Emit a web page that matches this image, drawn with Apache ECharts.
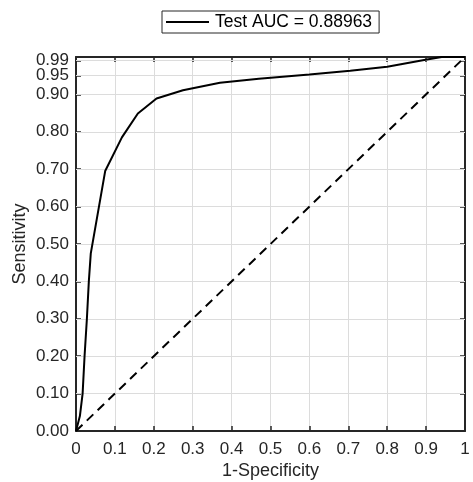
<!DOCTYPE html>
<html>
<head>
<meta charset="utf-8">
<script src="https://cdn.jsdelivr.net/npm/echarts@6/dist/echarts.min.js"></script>
<style>html,body{margin:0;padding:0;background:#fff}#c{width:473px;height:482px}</style>
</head>
<body>
<div id="c"></div>
<script>
// ROC curve data (1-Specificity vs Sensitivity)
const fpr = [0, 0.010, 0.017, 0.022, 0.028, 0.033, 0.038, 0.075, 0.118, 0.159, 0.207, 0.275, 0.370, 0.470, 0.600, 0.705, 0.800, 0.895, 0.940, 1];
const tpr = [0, 0.04, 0.10, 0.20, 0.30, 0.40, 0.475, 0.695, 0.785, 0.849, 0.889, 0.911, 0.931, 0.942, 0.953, 0.963, 0.974, 0.992, 1.0, 1.0];
const chanceX = [0, 1];
const chanceY = [0, 1];
const yTicks = [0, 0.1, 0.2, 0.3, 0.4, 0.5, 0.6, 0.7, 0.8, 0.9, 0.95, 0.99];
const xTicks = [0, 0.1, 0.2, 0.3, 0.4, 0.5, 0.6, 0.7, 0.8, 0.9, 1];
const seriesName = 'Test AUC = 0.88963';
const xTitle = '1-Specificity';
const yTitle = 'Sensitivity';

const FONT = 'Liberation Sans, Arial, sans-serif';
const AX = '#262626';
const GRID = '#dcdcdc';

const chart = echarts.init(document.getElementById('c'), null, {renderer: 'canvas'});
const rocData = fpr.map((x, i) => [x, tpr[i]]);
const chanceData = chanceX.map((x, i) => [x, chanceY[i]]);

// split y tick labels across two overlaid left axes so the close 0.95 label is not hidden
const yLabelsB = [0.95];
const yLabelsA = yTicks.filter(v => yLabelsB.indexOf(v) < 0);

const yLabelStyle = {fontFamily: FONT, fontSize: 17, color: AX, margin: 7,
  hideOverlap: false, showMinLabel: true, showMaxLabel: true,
  formatter: v => v.toFixed(2)};

chart.setOption({
  animation: false,
  backgroundColor: '#fff',
  grid: {left: 76, right: 8, top: 57, bottom: 51, containLabel: false, outerBoundsMode: 'none'},
  legend: {
    data: [{name: seriesName, icon: 'rect'}],
    left: 162, top: 11,
    itemWidth: 43, itemHeight: 2, itemGap: 5,
    padding: [2, 7, 2, 4],
    borderColor: AX, borderWidth: 1,
    backgroundColor: '#fff',
    textStyle: {fontFamily: FONT, fontSize: 17.5, color: '#000', padding: [0, 0, 0, 1]}
  },
  xAxis: [{
    type: 'value', min: 0, max: 1, interval: 0.1, position: 'bottom',
    name: xTitle, nameLocation: 'middle', nameGap: 31, nameMoveOverlap: false,
    nameTextStyle: {fontFamily: FONT, fontSize: 18, color: AX},
    axisLine: {show: true, onZero: false, lineStyle: {color: AX, width: 2}},
    axisTick: {show: true, inside: true, length: 5, lineStyle: {color: AX, width: 1.5}},
    axisLabel: {fontFamily: FONT, fontSize: 17, color: AX, margin: 10,
      customValues: xTicks, hideOverlap: false,
      formatter: v => (v === 0 ? '0' : v === 1 ? '1' : v.toFixed(1))},
    splitLine: {show: true, lineStyle: {color: GRID, width: 1}}
  }, {
    type: 'value', min: 0, max: 1, interval: 0.1, position: 'top',
    axisLine: {show: true, onZero: false, lineStyle: {color: AX, width: 2}},
    axisTick: {show: true, inside: true, length: 5, lineStyle: {color: AX, width: 1.5}},
    axisLabel: {show: false},
    splitLine: {show: false}
  }],
  yAxis: [{
    type: 'value', min: 0, max: 1, position: 'left',
    name: yTitle, nameLocation: 'middle', nameGap: 47, nameRotate: 90, nameMoveOverlap: false,
    nameTextStyle: {fontFamily: FONT, fontSize: 18, color: AX},
    axisLine: {show: true, onZero: false, lineStyle: {color: AX, width: 2}},
    axisTick: {show: true, inside: true, length: 5, customValues: yTicks, lineStyle: {color: AX, width: 1.5}},
    axisLabel: Object.assign({customValues: yLabelsA}, yLabelStyle),
    splitLine: {show: false}
  }, {
    type: 'value', min: 0, max: 1, position: 'right',
    axisLine: {show: true, onZero: false, lineStyle: {color: AX, width: 2}},
    axisTick: {show: true, inside: true, length: 5, customValues: yTicks, lineStyle: {color: AX, width: 1.5}},
    axisLabel: {show: false},
    splitLine: {show: false}
  }, {
    type: 'value', min: 0, max: 1, position: 'left', offset: 0,
    axisLine: {show: false},
    axisTick: {show: false},
    axisLabel: Object.assign({customValues: yLabelsB}, yLabelStyle),
    splitLine: {show: false}
  }],
  series: [{
    name: seriesName, type: 'line', data: rocData,
    xAxisIndex: 0, yAxisIndex: 0, z: 5,
    showSymbol: false, symbol: 'none',
    lineStyle: {color: '#000', width: 2},
    itemStyle: {color: '#000'},
    markLine: {
      silent: true, symbol: 'none', z: 1,
      label: {show: false},
      lineStyle: {color: GRID, width: 1, type: 'solid'},
      data: yTicks.filter(v => v > 0).map(v => ({yAxis: v}))
    }
  }, {
    name: 'chance', type: 'line', data: chanceData,
    xAxisIndex: 0, yAxisIndex: 0, z: 4,
    showSymbol: false, symbol: 'none',
    lineStyle: {color: '#000', width: 2, type: [9, 6]}
  }]
});
</script>
</body>
</html>
